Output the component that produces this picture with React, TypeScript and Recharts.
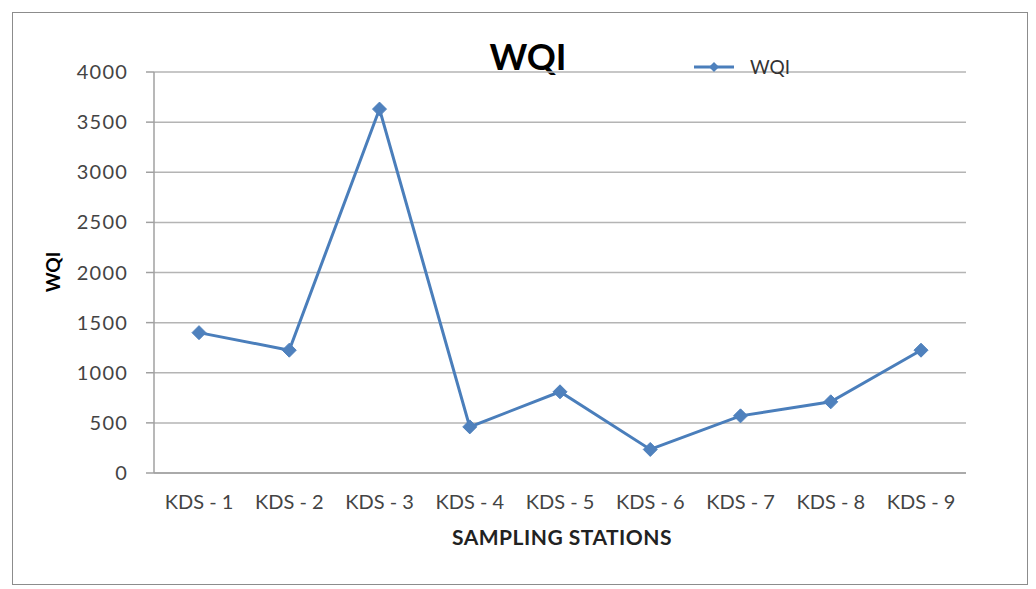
import React from "react";
import { LineChart, Line, XAxis, YAxis, CartesianGrid, Legend } from "recharts";

const stations = ["KDS - 1", "KDS - 2", "KDS - 3", "KDS - 4", "KDS - 5", "KDS - 6", "KDS - 7", "KDS - 8", "KDS - 9"];
const wqi = [1400, 1225, 3630, 460, 810, 235, 570, 710, 1225];
const yTicks = [0, 500, 1000, 1500, 2000, 2500, 3000, 3500, 4000];

const data = stations.map((s, i) => ({ station: s, WQI: wqi[i] }));

const font = "Lato, 'Open Sans', sans-serif";
const blue = "#4a7ebb";

const Diamond = (props: any) => {
  const { cx, cy, index } = props;
  const r = 7;
  return (
    <polygon
      key={index}
      points={`${cx},${cy - r} ${cx + r},${cy} ${cx},${cy + r} ${cx - r},${cy}`}
      fill="#4f81bd"
      stroke="#4f81bd"
    />
  );
};

const LegendBox = () => (
  <div style={{ display: "flex", alignItems: "center", fontFamily: font, fontSize: 19, color: "#333" }}>
    <svg width={42} height={12}>
      <line x1={0} y1={6} x2={40} y2={6} stroke={blue} strokeWidth={3} />
      <polygon points="20,1 25,6 20,11 15,6" fill="#4f81bd" />
    </svg>
    <span style={{ marginLeft: 14 }}>WQI</span>
  </div>
);

export default function App() {
  return (
    <div style={{ position: "absolute", left: 0, top: 0, width: 1036, height: 589, background: "#fff" }}>
      <div
        style={{
          position: "absolute",
          left: 12,
          top: 12,
          width: 1016,
          height: 573,
          border: "1.5px solid #8c8c8c",
          boxSizing: "border-box",
        }}
      />
      <div
        style={{
          position: "absolute",
          left: 428,
          top: 36,
          width: 200,
          textAlign: "center",
          fontFamily: font,
          fontWeight: 700,
          fontSize: 36,
          color: "#000",
          lineHeight: "40px",
        }}
      >
        WQI
      </div>
      <div
        style={{
          position: "absolute",
          left: 52,
          top: 272,
          transform: "translate(-50%, -50%) rotate(-90deg)",
          fontFamily: font,
          fontWeight: 700,
          fontSize: 19,
          color: "#000",
        }}
      >
        WQI
      </div>
      <div
        style={{
          position: "absolute",
          left: 362,
          top: 524,
          width: 400,
          textAlign: "center",
          fontFamily: font,
          fontWeight: 700,
          fontSize: 21,
          letterSpacing: 0.5,
          color: "#222",
        }}
      >
        SAMPLING STATIONS
      </div>
      <LineChart
        width={1036}
        height={589}
        data={data}
        margin={{ top: 72, right: 70, bottom: 0, left: 0 }}
        style={{ position: "absolute", left: 0, top: 0 }}
      >
        <CartesianGrid horizontal vertical={false} stroke="#b4b4b4" strokeWidth={1.5} />
        <XAxis
          dataKey="station"
          height={116}
          padding={{ left: 45, right: 45 }}
          tickLine={false}
          tickSize={0}
          tickMargin={22}
          axisLine={{ stroke: "#a0a0a0", strokeWidth: 1.5 }}
          tick={{ fontFamily: font, fontSize: 20, fill: "#444" }}
          interval={0}
        />
        <YAxis
          width={154}
          domain={[0, 4000]}
          ticks={yTicks}
          tickSize={8}
          tickMargin={18}
          tickLine={{ stroke: "#a0a0a0", strokeWidth: 1.5 }}
          axisLine={{ stroke: "#a0a0a0", strokeWidth: 1.5 }}
          tick={{ fontFamily: font, fontSize: 20, fill: "#444", letterSpacing: 1.2 }}
          interval={0}
        />
        <Legend
          content={<LegendBox />}
          wrapperStyle={{ position: "absolute", left: 694, top: 55, width: 140, height: 0, overflow: "visible" }}
        />
        <Line
          type="linear"
          dataKey="WQI"
          stroke={blue}
          strokeWidth={3}
          dot={<Diamond />}
          activeDot={false}
          isAnimationActive={false}
        />
      </LineChart>
    </div>
  );
}
